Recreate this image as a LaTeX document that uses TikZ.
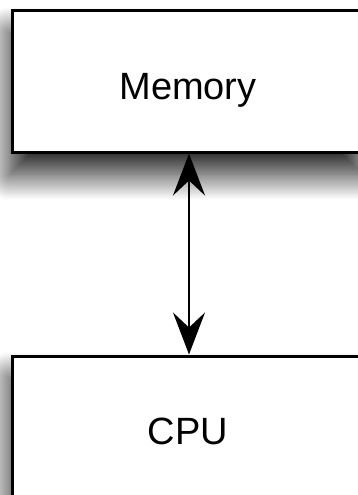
\documentclass[tikz,border=0pt]{standalone}
\usepackage{fontspec}
\setmainfont{Liberation Sans}
\usetikzlibrary{arrows.meta,shadows.blur}
\tikzset{
  unitbox/.style={draw=black, line width=3pt, fill=white,
    minimum width=352pt, minimum height=141pt, inner sep=0pt,
    text height=43pt, text depth=8pt,
    font=\fontsize{38}{40}\selectfont,
    blur shadow={shadow xshift=-2pt, shadow yshift=-22pt,
      shadow blur radius=26pt, shadow blur steps=30, shadow opacity=90}},
  link/.style={line width=2pt, {Stealth[length=42pt, width=32pt, inset=15pt]}-{Stealth[length=42pt, width=32pt, inset=15pt]}}
}
\begin{document}
\begin{tikzpicture}[x=1pt, y=1pt]
  \useasboundingbox (0,0) rectangle (358,-495);
  \clip (0,0) rectangle (358,-495);
  % the two units
  \node[unitbox] (mem) at (188,-81.5) {Memory};
  \node[unitbox] (cpu) at (188,-426.5) {CPU};
  % bus between them
  \draw[link] ([xshift=1pt]mem.south) -- ([xshift=1pt]cpu.north);
\end{tikzpicture}
\end{document}
